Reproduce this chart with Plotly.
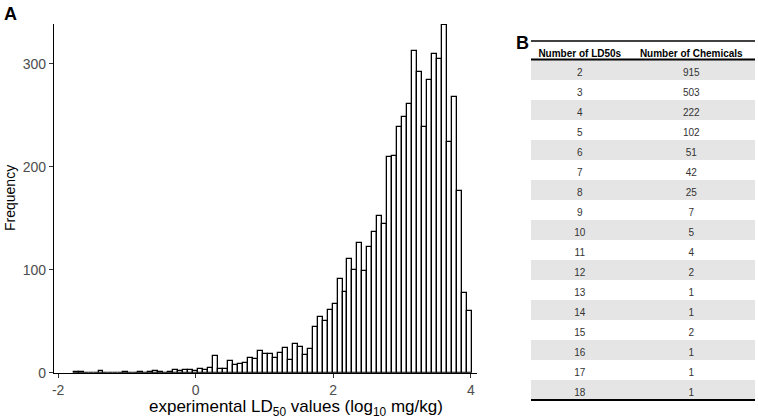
import plotly.graph_objects as go

# ---------------- data ----------------
# Histogram of experimental LD50 values (log10 mg/kg): 80 equal bins
bin_start = -1.775
bin_width = 0.0724
counts = [1, 1, 0, 0, 0, 2, 0, 0, 0, 0,
          1, 0, 0, 1, 0, 1, 2, 1, 0, 1,
          3, 2, 3, 3, 2, 4, 3, 5, 16, 4,
          4, 11, 7, 8, 9, 14, 13, 21, 18, 18,
          14, 19, 24, 12, 28, 25, 17, 23, 44, 54,
          50, 61, 67, 91, 78, 110, 100, 126, 99, 122,
          137, 152, 144, 209, 210, 239, 248, 261, 312, 292,
          239, 284, 309, 305, 338, 224, 268, 176, 77, 60]
x_ticks = [-2, 0, 2, 4]
y_ticks = [0, 100, 200, 300]

# Table B
n_ld50s = [2, 3, 4, 5, 6, 7, 8, 9, 10, 11, 12, 13, 14, 15, 16, 17, 18]
n_chemicals = [915, 503, 222, 102, 51, 42, 25, 7, 5, 4, 2, 1, 1, 2, 1, 1, 1]
table_headers = ["Number of LD50s", "Number of Chemicals"]

# ---------------- layout helpers ----------------
W, H = 758, 419


def px(x):
    return x / W


def py(y):
    return 1 - y / H


centers = [bin_start + (i + 0.5) * bin_width for i in range(len(counts))]

fig = go.Figure()

fig.add_trace(go.Bar(
    x=centers, y=counts, width=bin_width,
    marker=dict(color="white", line=dict(color="black", width=1.3)),
    xaxis="x", yaxis="y", showlegend=False, hoverinfo="x+y"
))

row_fill = ["#e5e5e5" if i % 2 == 0 else "white" for i in range(len(n_ld50s))]
fig.add_trace(go.Table(
    domain=dict(x=[px(531), px(755)], y=[py(400), py(41)]),
    columnwidth=[98, 126],
    header=dict(values=[h.replace(" ", "\u00a0") for h in table_headers],
                fill_color="white", line=dict(width=0, color="white"),
                align="center", height=19,
                font=dict(family="Liberation Sans, Arial", size=10, color="black",
                          weight="bold")),
    cells=dict(values=[n_ld50s, n_chemicals],
               fill_color=[row_fill, row_fill],
               line=dict(width=1, color=[row_fill, row_fill]),
               align="center", height=20,
               font=dict(family="Liberation Sans, Arial", size=10, color="#333333")),
))

axis_font = dict(family="Liberation Sans, Arial", size=14, color="#4d4d4d")

fig.update_layout(
    width=W, height=H,
    margin=dict(l=0, r=0, t=0, b=0),
    paper_bgcolor="white", plot_bgcolor="white",
    bargap=0,
    xaxis=dict(domain=[px(54), px(477)], range=[-2.06, 4.09],
               tickvals=x_ticks, ticktext=[str(v) for v in x_ticks],
               showgrid=False, zeroline=False, showline=True,
               linecolor="black", linewidth=1.3,
               ticks="outside", ticklen=4, tickwidth=1.2, tickcolor="#333333",
               tickfont=axis_font, automargin=False, anchor="y"),
    yaxis=dict(domain=[py(372.7), py(24)], range=[0, 338.5],
               tickvals=y_ticks, ticktext=[str(v) for v in y_ticks],
               showgrid=False, zeroline=False, showline=True,
               linecolor="black", linewidth=1.3,
               ticks="outside", ticklen=4, tickwidth=1.2, tickcolor="#333333",
               tickfont=axis_font, automargin=False, anchor="x"),
    font=dict(family="Liberation Sans, Arial", color="black"),
)

annotations = [
    dict(text="<b>A</b>", x=px(2), y=py(2), xanchor="left", yanchor="top",
         font=dict(size=18, color="black")),
    dict(text="<b>B</b>", x=px(514), y=py(31), xanchor="left", yanchor="top",
         font=dict(size=18, color="black")),
    dict(text="Frequency", x=px(10), y=py(198), textangle=-90,
         xanchor="center", yanchor="middle", font=dict(size=14, color="black")),
    dict(text="experimental LD<sub>50</sub> values (log<sub>10</sub> mg/kg)",
         x=px(296), y=py(408), xanchor="center", yanchor="middle",
         font=dict(size=17, color="black")),
]
for a in annotations:
    a.update(xref="paper", yref="paper", showarrow=False)
fig.update_layout(annotations=annotations)

rules = [(41, 1.5), (59.5, 2.2), (400, 2.2)]
fig.update_layout(shapes=[
    dict(type="line", xref="paper", yref="paper", x0=px(531), x1=px(755),
         y0=py(y), y1=py(y), line=dict(color="black", width=w))
    for y, w in rules
])

fig.write_html("out.html", config={"displayModeBar": False},
               post_script="document.body.style.margin='0';document.body.style.overflow='hidden';")
